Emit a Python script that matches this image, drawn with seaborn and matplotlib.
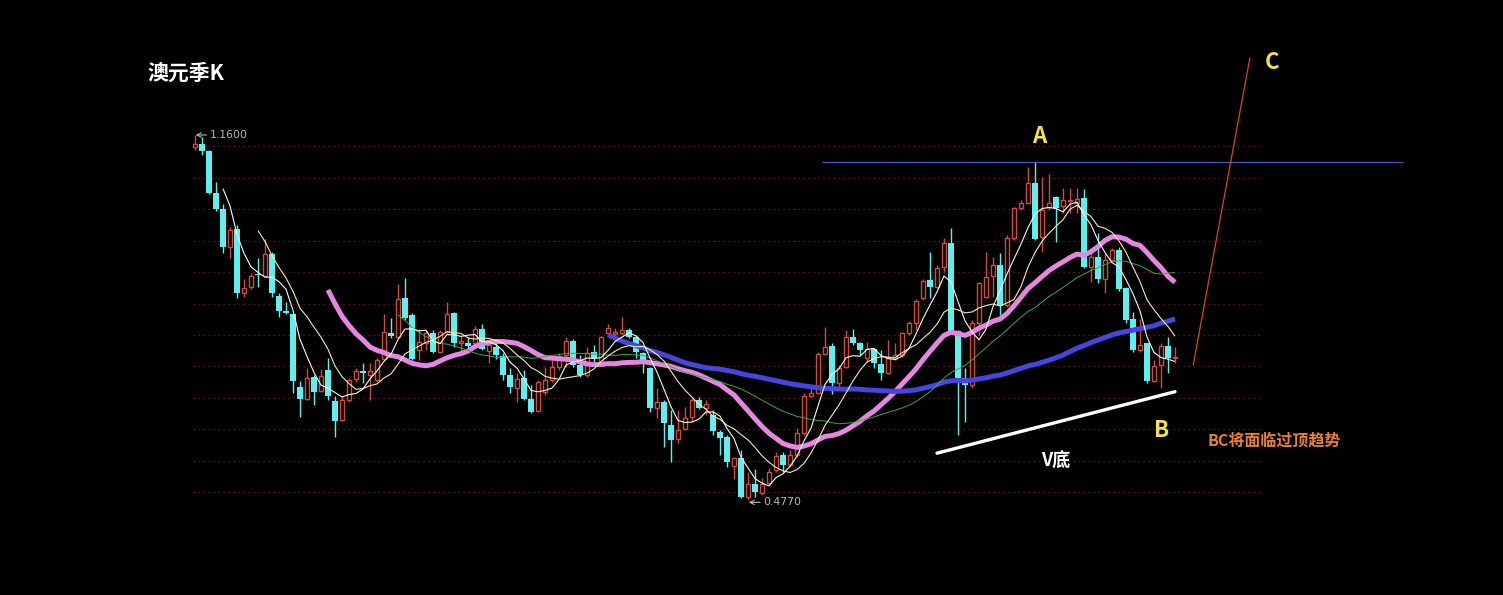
import matplotlib
matplotlib.use('Agg')
import matplotlib.pyplot as plt
import seaborn as sns
import numpy as np
import pandas as pd

# 澳元 季K 数据
open_ = [1.138, 1.143, 1.130, 1.052, 1.022, 0.951, 0.984, 0.865, 0.876, 0.900,
         0.896, 0.938, 0.859, 0.831, 0.825, 0.689, 0.666, 0.708, 0.681, 0.721,
         0.663, 0.627, 0.665, 0.704, 0.719, 0.711, 0.702, 0.741, 0.790, 0.782,
         0.855, 0.823, 0.758, 0.771, 0.790, 0.754, 0.792, 0.827, 0.771, 0.771,
         0.771, 0.797, 0.756, 0.764, 0.747, 0.711, 0.687, 0.706, 0.666, 0.644,
         0.680, 0.702, 0.726, 0.749, 0.775, 0.730, 0.711, 0.754, 0.736, 0.790,
         0.788, 0.790, 0.795, 0.782, 0.752, 0.724, 0.650, 0.661, 0.618, 0.592,
         0.610, 0.633, 0.665, 0.650, 0.636, 0.605, 0.595, 0.541, 0.556, 0.483,
         0.507, 0.491, 0.509, 0.534, 0.562, 0.543, 0.562, 0.603, 0.672, 0.678,
         0.751, 0.766, 0.696, 0.726, 0.782, 0.771, 0.743, 0.760, 0.732, 0.715,
         0.741, 0.749, 0.790, 0.808, 0.855, 0.889, 0.876, 0.913, 0.958, 0.794,
         0.706, 0.693, 0.808, 0.857, 0.896, 0.917, 0.842, 0.967, 1.024, 1.033,
         1.070, 0.969, 1.025, 1.044, 1.027, 1.036, 1.033, 1.042, 0.913, 0.932,
         0.891, 0.926, 0.945, 0.874, 0.816, 0.758, 0.771, 0.700, 0.730, 0.766,
         0.743]
high = [1.160, 1.156, 1.132, 1.072, 1.031, 0.988, 0.992, 0.891, 0.902, 0.930,
        0.966, 0.941, 0.865, 0.848, 0.827, 0.700, 0.724, 0.711, 0.722, 0.743,
        0.672, 0.672, 0.706, 0.724, 0.734, 0.734, 0.743, 0.825, 0.818, 0.881,
        0.893, 0.827, 0.797, 0.795, 0.795, 0.795, 0.848, 0.829, 0.786, 0.782,
        0.803, 0.807, 0.773, 0.771, 0.752, 0.724, 0.715, 0.721, 0.693, 0.702,
        0.726, 0.739, 0.752, 0.782, 0.779, 0.749, 0.764, 0.767, 0.784, 0.807,
        0.799, 0.820, 0.799, 0.786, 0.754, 0.726, 0.687, 0.665, 0.646, 0.646,
        0.651, 0.670, 0.670, 0.665, 0.646, 0.608, 0.599, 0.558, 0.571, 0.530,
        0.535, 0.519, 0.537, 0.567, 0.567, 0.571, 0.612, 0.678, 0.687, 0.754,
        0.801, 0.771, 0.730, 0.795, 0.797, 0.773, 0.773, 0.762, 0.758, 0.777,
        0.771, 0.792, 0.812, 0.853, 0.891, 0.941, 0.917, 0.967, 0.986, 0.795,
        0.724, 0.814, 0.885, 0.941, 0.932, 0.939, 0.973, 1.025, 1.038, 1.100,
        1.110, 1.082, 1.087, 1.046, 1.061, 1.061, 1.061, 1.059, 0.945, 0.977,
        0.939, 0.949, 0.951, 0.876, 0.829, 0.816, 0.771, 0.739, 0.771, 0.782,
        0.764]
low = [1.132, 1.123, 1.050, 1.018, 0.939, 0.930, 0.855, 0.857, 0.872, 0.876,
       0.894, 0.857, 0.820, 0.825, 0.678, 0.633, 0.665, 0.655, 0.680, 0.665,
       0.595, 0.625, 0.661, 0.698, 0.696, 0.665, 0.698, 0.739, 0.780, 0.780,
       0.814, 0.739, 0.739, 0.758, 0.752, 0.752, 0.790, 0.764, 0.754, 0.758,
       0.764, 0.758, 0.734, 0.741, 0.702, 0.678, 0.661, 0.665, 0.640, 0.642,
       0.674, 0.698, 0.721, 0.726, 0.726, 0.708, 0.708, 0.736, 0.732, 0.786,
       0.782, 0.786, 0.780, 0.743, 0.715, 0.642, 0.631, 0.577, 0.549, 0.584,
       0.608, 0.623, 0.648, 0.636, 0.599, 0.562, 0.539, 0.517, 0.481, 0.477,
       0.483, 0.487, 0.506, 0.530, 0.530, 0.541, 0.558, 0.599, 0.670, 0.676,
       0.749, 0.676, 0.689, 0.724, 0.767, 0.749, 0.736, 0.724, 0.702, 0.713,
       0.739, 0.745, 0.786, 0.795, 0.851, 0.855, 0.874, 0.904, 0.792, 0.599,
       0.623, 0.687, 0.786, 0.855, 0.857, 0.823, 0.838, 0.964, 1.020, 1.031,
       0.964, 0.941, 1.020, 0.960, 1.014, 1.014, 1.014, 0.911, 0.885, 0.883,
       0.865, 0.924, 0.868, 0.808, 0.754, 0.754, 0.696, 0.698, 0.687, 0.715,
       0.734]
close = [1.143, 1.130, 1.052, 1.022, 0.951, 0.982, 0.865, 0.874, 0.896, 0.898,
         0.938, 0.865, 0.831, 0.827, 0.700, 0.666, 0.706, 0.680, 0.709, 0.672,
         0.625, 0.665, 0.702, 0.719, 0.715, 0.719, 0.739, 0.792, 0.784, 0.853,
         0.818, 0.741, 0.773, 0.790, 0.754, 0.792, 0.825, 0.771, 0.775, 0.766,
         0.797, 0.760, 0.767, 0.749, 0.711, 0.689, 0.704, 0.666, 0.642, 0.698,
         0.702, 0.726, 0.747, 0.775, 0.730, 0.711, 0.752, 0.743, 0.782, 0.799,
         0.792, 0.795, 0.782, 0.754, 0.736, 0.650, 0.661, 0.622, 0.590, 0.608,
         0.631, 0.665, 0.650, 0.657, 0.607, 0.593, 0.549, 0.556, 0.483, 0.507,
         0.492, 0.507, 0.530, 0.560, 0.543, 0.562, 0.603, 0.672, 0.678, 0.751,
         0.764, 0.696, 0.724, 0.782, 0.771, 0.758, 0.760, 0.734, 0.715, 0.743,
         0.749, 0.790, 0.808, 0.850, 0.887, 0.876, 0.911, 0.958, 0.794, 0.706,
         0.693, 0.808, 0.883, 0.894, 0.917, 0.840, 0.967, 1.024, 1.033, 1.070,
         0.966, 1.020, 1.033, 1.024, 1.038, 1.038, 1.040, 0.913, 0.932, 0.891,
         0.926, 0.945, 0.872, 0.814, 0.758, 0.767, 0.700, 0.728, 0.766, 0.743,
         0.745]

ma_windows = [5, 10, 20, 30, 60]
ma_colors = {5: '#f8f8f8', 10: '#f6eca8', 20: '#e586e0', 30: '#3da83d', 60: '#4646dc'}
ma_widths = {5: 0.8, 10: 0.8, 20: 3.6, 30: 0.7, 60: 3.6}

title = '澳元季K'
fig_texts = ['A', 'B', 'C', 'V底', 'BC将面临过顶趋势']

df = pd.DataFrame({'open': open_, 'high': high, 'low': low, 'close': close})
df['idx'] = np.arange(len(df))
for w in ma_windows:
    df[f'ma{w}'] = df['close'].rolling(w).mean()

sns.set_style('dark', {'axes.facecolor': 'black', 'figure.facecolor': 'black'})
plt.rcParams['font.family'] = ['Noto Sans CJK SC', 'DejaVu Sans']

fig = plt.figure(figsize=(15.03, 5.95), dpi=100, facecolor='black')
ax = fig.add_axes([0, 0, 1, 1])
ax.set_facecolor('black')

# dotted grid
levels = np.linspace(0.492, 1.139, 12)
ax.hlines(levels, -0.3, 152.4, colors='#7a1a1a', linestyles=(0, (1, 3)), lw=0.9, zorder=1)

red = '#d04a3e'
cyan = '#5ef0ee'
up = df[df['close'] >= df['open']]
dn = df[df['close'] < df['open']]

# down candles: filled cyan
ax.vlines(dn['idx'], dn['low'], dn['high'], color=cyan, lw=1.0, zorder=2)
ax.bar(dn['idx'], (dn['open'] - dn['close']).clip(lower=0.0015), bottom=dn['close'],
       width=0.76, color=cyan, lw=0, zorder=2)
# up candles: hollow red
ax.vlines(up['idx'], up['low'], up['open'], color=red, lw=1.0, zorder=2)
ax.vlines(up['idx'], up['close'], up['high'], color=red, lw=1.0, zorder=2)
ax.bar(up['idx'], (up['close'] - up['open']).clip(lower=0.0015), bottom=up['open'],
       width=0.68, facecolor='black', edgecolor=red, lw=1.0, zorder=2)

for w in [20, 60, 30, 10, 5]:
    sns.lineplot(data=df, x='idx', y=f'ma{w}', ax=ax, color=ma_colors[w],
                 lw=ma_widths[w], estimator=None, zorder=3 if w in (20, 60) else 4,
                 solid_capstyle='butt')
ax.set_xlim(-27.857, 186.857)
ax.set_ylim(0.2998, 1.4125)
ax.axis('off')

# max / min markers
gray = '#b8b8b8'
imax = int(np.argmax(high))
imin = int(np.argmin(low))
ax.annotate(f'{max(high):.4f}', xy=(imax + 0.1, max(high)), xytext=(imax + 2.1, max(high)),
            color=gray, fontsize=7.8, va='center', ha='left', family='DejaVu Sans',
            arrowprops=dict(arrowstyle='->', color=gray, lw=0.8, shrinkA=0, shrinkB=0))
ax.annotate(f'{min(low):.4f}', xy=(imin + 0.1, min(low) - 0.004), xytext=(imin + 2.2, min(low) - 0.004),
            color=gray, fontsize=7.8, va='center', ha='left', family='DejaVu Sans',
            arrowprops=dict(arrowstyle='->', color=gray, lw=0.8, shrinkA=0, shrinkB=0))

# A level line, V bottom line and BC line
a_top = max(high[100:])
ax.hlines(a_top, 89.6, 172.6, colors='#4a58c8', lw=0.9, zorder=5)
ax.plot([106, 140], [0.565, 0.680], color='white', lw=2.4, zorder=5, solid_capstyle='round')
ax.plot([142.6, 150.7], [0.730, 1.304], color='#d8442e', lw=0.9, zorder=5)

yellow = '#f4e048'
ax.text(-6.86, 1.276, title, color='white', fontsize=15, fontweight='bold', va='center', ha='left')
ax.text(120.6, 1.158, fig_texts[0], color=yellow, fontsize=16, fontweight='bold', ha='center', va='center')
ax.text(138.1, 0.608, fig_texts[1], color=yellow, fontsize=16, fontweight='bold', ha='center', va='center')
ax.text(153.9, 1.296, fig_texts[2], color=yellow, fontsize=16, fontweight='bold', ha='center', va='center')
ax.text(122.9, 0.550, fig_texts[3], color='white', fontsize=13, fontweight='bold', ha='center', va='center')
ax.text(154.1, 0.588, fig_texts[4], color='#e8803a', fontsize=11.5, fontweight='bold', ha='center', va='center')

fig.savefig('out.png', dpi=100, facecolor='black')
